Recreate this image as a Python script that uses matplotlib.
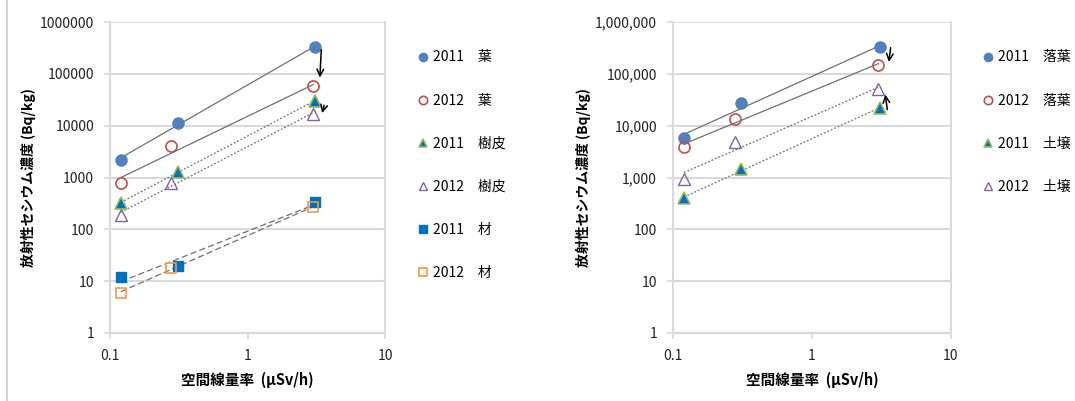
import numpy as np
import matplotlib
matplotlib.use("Agg")
import matplotlib.pyplot as plt
from matplotlib.ticker import FixedLocator, FixedFormatter
from matplotlib.lines import Line2D

plt.rcParams['font.family'] = ['Noto Sans CJK JP', 'DejaVu Sans']

# --- data ---
x_2011 = [0.12, 0.31, 3.1]
x_2012 = [0.12, 0.28, 3.0]

leaf_2011 = [2200, 11500, 330000]
leaf_2012 = [800, 4000, 57000]
bark_2011 = [320, 1300, 30000]
bark_2012 = [190, 800, 17000]
wood_2011 = [12, 20, 330]
wood_2012 = [6, 18, 270]

litter_2011 = [5800, 27000, 330000]
litter_2012 = [3900, 13500, 150000]
soil_2011 = [400, 1450, 22000]
soil_2012 = [950, 4900, 50000]

left_labels = ["2011\u3000葉", "2012\u3000葉", "2011\u3000樹皮", "2012\u3000樹皮",
               "2011\u3000材", "2012\u3000材"]
right_labels = ["2011\u3000落葉", "2012\u3000落葉", "2011\u3000土壌", "2012\u3000土壌"]

ylabel = "放射性セシウム濃度 (Bq/kg)"
xlabel = "空間線量率  (μSv/h)"

# --- styles ---
c_circ1 = "#4F81BD"
c_circ2 = "#C0504D"
c_tri1 = "#0070C0"
c_tri1_edge = "#9BBB59"
c_tri2 = "#8064A2"
c_sq1 = "#0070C0"
c_sq2 = "#F79646"
gridc = "#D9D9D9"
trendc = "#707070"

W, H = 1075, 401
fig = plt.figure(figsize=(W / 100, H / 100), dpi=100)

# thin border line at the far left of the original picture
fig.add_artist(Line2D([7 / W, 7 / W], [0, 1], color="#C8C8C8", lw=1.2))


def px_axes(x0, x1, y0, y1):
    return fig.add_axes([x0 / W, 1 - y1 / H, (x1 - x0) / W, (y1 - y0) / H])


def trend(ax, x, y, ls):
    lx, ly = np.log10(x), np.log10(y)
    k, b = np.polyfit(lx, ly, 1)
    xs = np.array([min(x), max(x)])
    ax.plot(xs, 10 ** (k * np.log10(xs) + b), color=trendc, lw=0.9, ls=ls, zorder=2)


def style(ax, commas):
    ax.set_xscale("log")
    ax.set_yscale("log")
    ax.set_xlim(0.1, 10)
    ax.set_ylim(1, 1e6)
    yt = [1, 10, 100, 1000, 10000, 100000, 1000000]
    ax.yaxis.set_major_locator(FixedLocator(yt))
    if commas:
        ax.yaxis.set_major_formatter(FixedFormatter([f"{v:,}" for v in yt]))
    else:
        ax.yaxis.set_major_formatter(FixedFormatter([str(v) for v in yt]))
    ax.yaxis.set_minor_locator(FixedLocator([]))
    ax.xaxis.set_major_locator(FixedLocator([0.1, 1, 10]))
    ax.xaxis.set_major_formatter(FixedFormatter(["0.1", "1", "10"]))
    ax.xaxis.set_minor_locator(FixedLocator([]))
    ax.grid(axis="y", color=gridc, lw=1.5)
    for s in ax.spines.values():
        s.set_color(gridc)
        s.set_linewidth(1.5)
    ax.spines["top"].set_visible(False)
    ax.tick_params(colors=gridc, labelcolor="#222222", labelsize=10, length=4,
                   width=1.2, pad=7.5)
    ax.set_ylabel(ylabel, fontsize=10, fontweight="bold", labelpad=3)
    ax.set_xlabel(xlabel, fontsize=10.5, fontweight="bold", labelpad=6)
    ax.set_axisbelow(True)


def arrow(ax, xy_from, xy_to):
    ax.annotate("", xy=xy_to, xytext=xy_from, xycoords="data",
                arrowprops=dict(arrowstyle="->", color="black", lw=1.1,
                                mutation_scale=12), annotation_clip=False)


# --- left chart ---
ax1 = px_axes(110, 385, 22, 333)
style(ax1, False)
trend(ax1, x_2011, leaf_2011, "-")
trend(ax1, x_2012, leaf_2012, "-")
trend(ax1, x_2011, bark_2011, (0, (1.5, 1.5)))
trend(ax1, x_2012, bark_2012, (0, (1.5, 1.5)))
trend(ax1, x_2011, wood_2011, (0, (5, 2.5)))
trend(ax1, x_2012, wood_2012, (0, (5, 2.5)))

ms = 8
h = []
h += ax1.plot(x_2011, leaf_2011, "o", ms=ms, color=c_circ1, mec=c_circ1, zorder=3)
h += ax1.plot(x_2012, leaf_2012, "o", ms=ms, mfc="none", mec=c_circ2, mew=1.2, zorder=3)
h += ax1.plot(x_2011, bark_2011, "^", ms=ms, color=c_tri1, mec=c_tri1_edge, mew=1.2, zorder=3)
h += ax1.plot(x_2012, bark_2012, "^", ms=ms, mfc="none", mec=c_tri2, mew=1.0, zorder=3)
h += ax1.plot(x_2011, wood_2011, "s", ms=ms - 0.5, color=c_sq1, mec=c_sq1, zorder=3)
h += ax1.plot(x_2012, wood_2012, "s", ms=ms - 0.5, mfc="none", mec=c_sq2, mew=1.2, zorder=3)

arrow(ax1, (3.45, 330000), (3.35, 75000))
arrow(ax1, (3.65, 28000), (3.45, 15500))

leg1 = fig.legend(h, left_labels, loc="upper left", bbox_to_anchor=(405 / W, 1 - 38 / H),
                  frameon=False, fontsize=10, handlelength=0.8, handletextpad=0.3,
                  labelspacing=2.1, markerscale=0.75)

# --- right chart ---
ax2 = px_axes(673, 951, 22, 333)
style(ax2, True)
trend(ax2, x_2011, litter_2011, "-")
trend(ax2, x_2012, litter_2012, "-")
trend(ax2, x_2011, soil_2011, (0, (1.5, 1.5)))
trend(ax2, x_2012, soil_2012, (0, (1.5, 1.5)))

h2 = []
h2 += ax2.plot(x_2011, litter_2011, "o", ms=ms, color=c_circ1, mec=c_circ1, zorder=3)
h2 += ax2.plot(x_2012, litter_2012, "o", ms=ms, mfc="none", mec=c_circ2, mew=1.2, zorder=3)
h2 += ax2.plot(x_2011, soil_2011, "^", ms=ms, color=c_tri1, mec=c_tri1_edge, mew=1.2, zorder=3)
h2 += ax2.plot(x_2012, soil_2012, "^", ms=ms, mfc="none", mec=c_tri2, mew=1.0, zorder=3)

arrow(ax2, (3.7, 360000), (3.55, 150000))
arrow(ax2, (3.5, 18000), (3.35, 45000))

leg2 = fig.legend(h2, right_labels, loc="upper left", bbox_to_anchor=(970 / W, 1 - 38 / H),
                  frameon=False, fontsize=10, handlelength=0.8, handletextpad=0.3,
                  labelspacing=2.1, markerscale=0.75)

fig.savefig("out.png", dpi=100)
